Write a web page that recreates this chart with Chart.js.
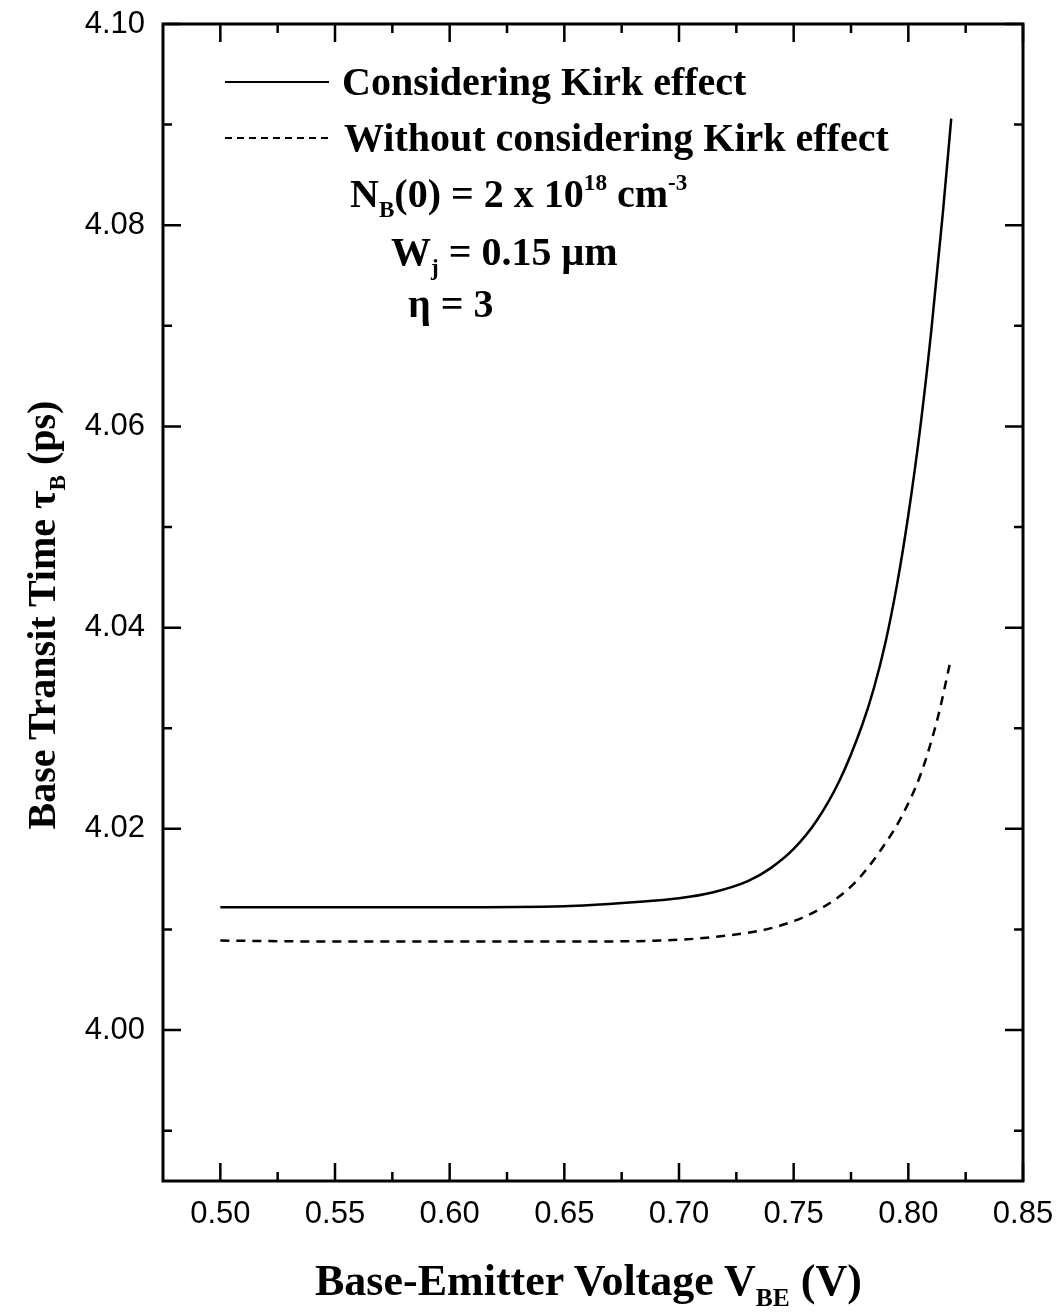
<!DOCTYPE html>
<html>
<head>
<meta charset="utf-8">
<script src="https://cdn.jsdelivr.net/npm/chart.js@4"></script>
<style>
  html, body { margin: 0; padding: 0; background: #fff; }
  #wrap { position: relative; width: 1063px; height: 1315px; }
  #chart { position: absolute; left: 0; top: 0; }
  .txt {
    position: absolute; white-space: nowrap; color: #000;
    font-family: 'Liberation Serif', 'Times New Roman', serif;
    font-weight: bold; font-size: 40px; line-height: 40px;
  }
  .txt sub, .txt sup { font-size: 58%; line-height: 0; }
  .txt sub { vertical-align: -0.45em; }
  .txt sup { vertical-align: 0.75em; }
  .sample { position: absolute; height: 2px; }
  .solid { background: #000; }
  .dashed { background: repeating-linear-gradient(90deg, #000 0 7px, transparent 7px 12px); }
</style>
</head>
<body>
<div id="wrap">
  <canvas id="chart" width="1063" height="1315"></canvas>

  <!-- legend + parameters -->
  <div class="sample solid" style="left:225px; top:81px; width:104px"></div>
  <div class="sample dashed" style="left:225px; top:137px; width:108px"></div>
  <div class="txt" style="left:342px; top:62px">Considering Kirk effect</div>
  <div class="txt" style="left:344px; top:118px">Without considering Kirk effect</div>
  <div class="txt" style="left:350px; top:174px">N<sub>B</sub>(0) = 2 x 10<sup>18</sup> cm<sup>-3</sup></div>
  <div class="txt" style="left:391px; top:232px">W<sub>j</sub> = 0.15 &mu;m</div>
  <div class="txt" style="left:408px; top:284px">&eta; = 3</div>

  <!-- axis titles -->
  <div class="txt" style="left:315px; top:1259px; font-size:44px; line-height:44px">Base-Emitter Voltage V<sub>BE</sub> (V)</div>
  <div class="txt" style="left:-258px; top:595px; width:600px; text-align:center; transform:rotate(-90deg)">Base Transit Time &tau;<sub>B</sub> (ps)</div>
</div>

<script>
// Tegangan basis-emitor (V) dan waktu transit basis (ps)
const vbeKirk = [0.50, 0.55, 0.60, 0.65, 0.68, 0.70, 0.715, 0.73, 0.74, 0.75, 0.76, 0.77, 0.78, 0.785, 0.79, 0.795, 0.80, 0.805, 0.81, 0.815, 0.8187];
const tauKirk = [4.0122, 4.0122, 4.0122, 4.0123, 4.0127, 4.0131, 4.0137, 4.0148, 4.0161, 4.0180, 4.0208, 4.0248, 4.0304, 4.0340, 4.0385, 4.0442, 4.0512, 4.0595, 4.0695, 4.0811, 4.0906];

const vbeNoKirk = [0.50, 0.55, 0.60, 0.65, 0.692, 0.721, 0.743, 0.762, 0.7765, 0.788, 0.797, 0.8055, 0.813, 0.818];
const tauNoKirk = [4.0089, 4.0088, 4.0088, 4.0088, 4.0089, 4.0094, 4.0103, 4.0121, 4.0146, 4.0179, 4.0212, 4.0255, 4.0312, 4.0363];

// Label sumbu
const xTicks = [0.50, 0.55, 0.60, 0.65, 0.70, 0.75, 0.80, 0.85];
const xTickLabels = ['0.50', '0.55', '0.60', '0.65', '0.70', '0.75', '0.80', '0.85'];
const xMinorTicks = [0.525, 0.575, 0.625, 0.675, 0.725, 0.775, 0.825];
const yTicks = [4.00, 4.02, 4.04, 4.06, 4.08, 4.10];
const yTickLabels = ['4.00', '4.02', '4.04', '4.06', '4.08', '4.10'];
const yMinorTicks = [3.99, 4.01, 4.03, 4.05, 4.07, 4.09];

const toPoints = (xs, ys) => xs.map((v, i) => ({ x: v, y: ys[i] }));

// Bingkai dan tick ke arah dalam, di keempat sisi
const frameTicks = {
  id: 'frameTicks',
  afterDatasetsDraw(chart) {
    const { ctx, chartArea: a, scales: { x, y } } = chart;
    ctx.save();
    ctx.strokeStyle = '#000';
    ctx.lineWidth = 3;
    ctx.strokeRect(a.left, a.top, a.right - a.left, a.bottom - a.top);
    ctx.lineWidth = 2.5;
    ctx.beginPath();
    const xTick = (v, len) => {
      const px = x.getPixelForValue(v);
      ctx.moveTo(px, a.bottom); ctx.lineTo(px, a.bottom - len);
      ctx.moveTo(px, a.top); ctx.lineTo(px, a.top + len);
    };
    const yTick = (v, len) => {
      const py = y.getPixelForValue(v);
      ctx.moveTo(a.left, py); ctx.lineTo(a.left + len, py);
      ctx.moveTo(a.right, py); ctx.lineTo(a.right - len, py);
    };
    xTicks.forEach(v => xTick(v, 18));
    xMinorTicks.forEach(v => xTick(v, 9));
    yTicks.forEach(v => yTick(v, 18));
    yMinorTicks.forEach(v => yTick(v, 9));
    ctx.stroke();
    ctx.restore();
  }
};

// ukuran sumbu tetap, tanpa padding tambahan dari label
const noPad = (scale) => {
  scale.paddingTop = 0;
  scale.paddingBottom = 0;
  scale.paddingLeft = 0;
  scale.paddingRight = 0;
};

const tickFont = { family: "'Liberation Sans', Arial, sans-serif", size: 31 };

new Chart(document.getElementById('chart'), {
  type: 'line',
  data: {
    datasets: [
      {
        label: 'Considering Kirk effect',
        data: toPoints(vbeKirk, tauKirk),
        borderColor: '#000',
        borderWidth: 2.5,
        pointRadius: 0,
        fill: false,
        cubicInterpolationMode: 'monotone'
      },
      {
        label: 'Without considering Kirk effect',
        data: toPoints(vbeNoKirk, tauNoKirk),
        borderColor: '#000',
        borderWidth: 2.5,
        borderDash: [9, 7],
        pointRadius: 0,
        fill: false,
        cubicInterpolationMode: 'monotone'
      }
    ]
  },
  options: {
    responsive: false,
    animation: false,
    layout: { padding: { top: 24, right: 40, left: 0, bottom: 0 } },
    scales: {
      x: {
        type: 'linear',
        min: 0.475,
        max: 0.85,
        grid: { display: false, drawTicks: false },
        border: { display: false },
        afterBuildTicks: (scale) => { scale.ticks = xTicks.map(v => ({ value: v })); },
        afterFit: (scale) => { scale.height = 134; noPad(scale); },
        ticks: {
          color: '#000',
          font: tickFont,
          padding: 15,
          maxRotation: 0,
          autoSkip: false,
          callback: (value) => xTickLabels[xTicks.indexOf(value)]
        }
      },
      y: {
        type: 'linear',
        min: 3.985,
        max: 4.10,
        grid: { display: false, drawTicks: false },
        border: { display: false },
        afterBuildTicks: (scale) => { scale.ticks = yTicks.map(v => ({ value: v })); },
        afterFit: (scale) => { scale.width = 163; noPad(scale); },
        ticks: {
          color: '#000',
          font: tickFont,
          padding: 18,
          autoSkip: false,
          callback: (value) => yTickLabels[yTicks.indexOf(value)]
        }
      }
    },
    plugins: {
      legend: { display: false },
      tooltip: { enabled: false }
    }
  },
  plugins: [frameTicks]
});
</script>
</body>
</html>
